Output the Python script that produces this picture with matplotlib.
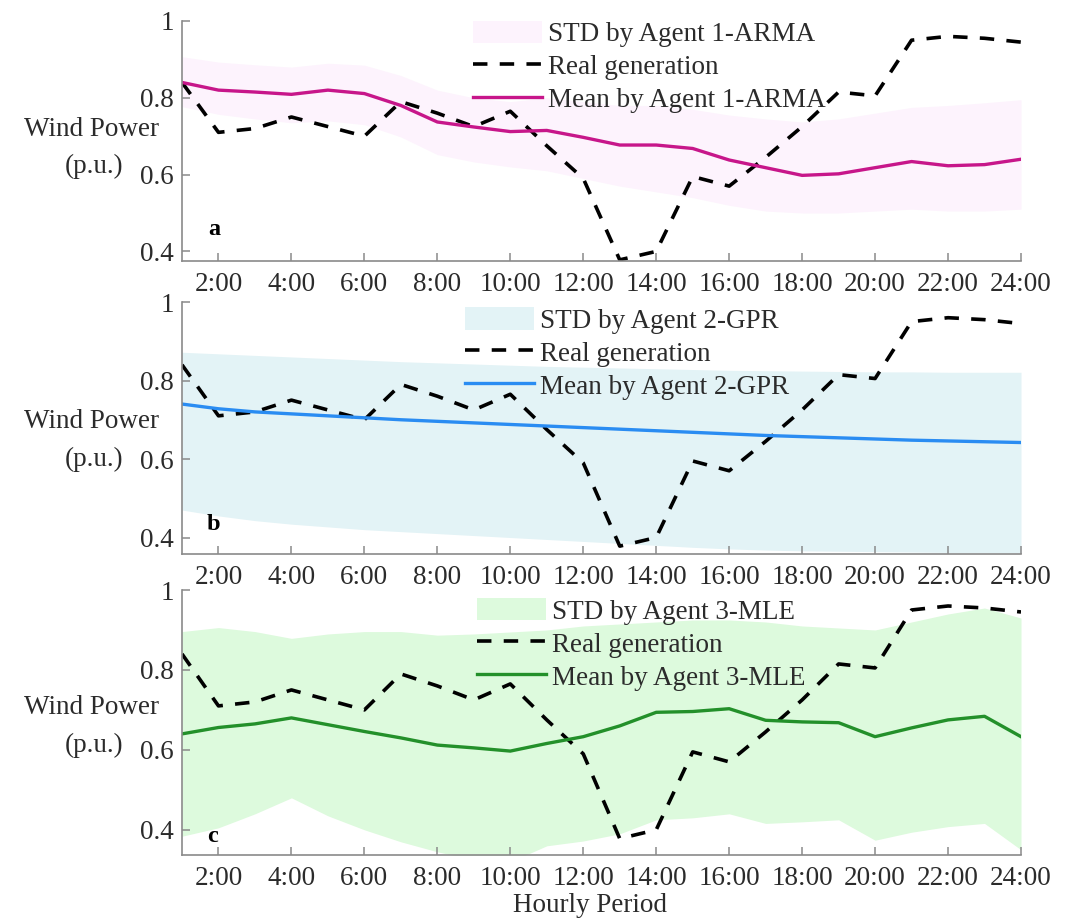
"""Wind power forecasts by three agents vs. real generation (hourly, p.u.)."""

import matplotlib.pyplot as plt
import numpy as np

plt.rcParams["font.family"] = ["Liberation Serif", "DejaVu Serif"]

hours = np.arange(1, 25)
tick_hours = np.arange(2, 25, 2)
tick_labels = [f"{h}:00" for h in tick_hours]

real = [0.84, 0.71, 0.72, 0.75, 0.725, 0.70, 0.79, 0.76, 0.725, 0.765, 0.675, 0.59,
        0.378, 0.40, 0.595, 0.57, 0.645, 0.725, 0.815, 0.805, 0.95, 0.96, 0.955, 0.945]

# Agent 1 - ARMA
arma_mean = [0.84, 0.82, 0.815, 0.809, 0.82, 0.811, 0.78, 0.737, 0.724, 0.712, 0.715, 0.697,
             0.677, 0.677, 0.668, 0.638, 0.618, 0.598, 0.602, 0.618, 0.634, 0.623, 0.626, 0.64]
arma_upper = [0.907, 0.893, 0.886, 0.88, 0.89, 0.885, 0.858, 0.82, 0.80, 0.79, 0.80, 0.79,
              0.78, 0.78, 0.77, 0.755, 0.745, 0.737, 0.745, 0.76, 0.775, 0.78, 0.787, 0.795]
arma_lower = [0.777, 0.757, 0.745, 0.735, 0.74, 0.73, 0.698, 0.652, 0.633, 0.62, 0.61, 0.59,
              0.57, 0.555, 0.54, 0.52, 0.505, 0.50, 0.50, 0.505, 0.51, 0.505, 0.505, 0.51]

# Agent 2 - GPR
gpr_mean = [0.74, 0.728, 0.72, 0.715, 0.71, 0.705, 0.70, 0.696, 0.692, 0.688, 0.684, 0.68,
            0.676, 0.672, 0.668, 0.664, 0.66, 0.657, 0.654, 0.651, 0.648, 0.646, 0.644, 0.642]
gpr_upper = [0.872, 0.868, 0.864, 0.86, 0.856, 0.852, 0.848, 0.845, 0.842, 0.839, 0.836, 0.834,
             0.832, 0.83, 0.828, 0.826, 0.825, 0.824, 0.823, 0.822, 0.822, 0.821, 0.821, 0.821]
gpr_lower = [0.47, 0.455, 0.443, 0.434, 0.427, 0.42, 0.415, 0.41, 0.405, 0.40, 0.395, 0.39,
             0.385, 0.38, 0.375, 0.371, 0.368, 0.366, 0.365, 0.364, 0.363, 0.362, 0.362, 0.361]

# Agent 3 - MLE
mle_mean = [0.64, 0.656, 0.665, 0.68, 0.663, 0.646, 0.63, 0.612, 0.605, 0.597, 0.616, 0.633,
            0.66, 0.694, 0.696, 0.703, 0.674, 0.67, 0.668, 0.633, 0.655, 0.675, 0.684, 0.633]
mle_upper = [0.896, 0.906, 0.896, 0.879, 0.89, 0.896, 0.896, 0.887, 0.89, 0.895, 0.90, 0.91,
             0.915, 0.92, 0.925, 0.925, 0.92, 0.91, 0.905, 0.90, 0.92, 0.94, 0.955, 0.93]
mle_lower = [0.384, 0.405, 0.44, 0.48, 0.435, 0.40, 0.37, 0.345, 0.325, 0.32, 0.36, 0.372,
             0.39, 0.425, 0.43, 0.44, 0.416, 0.42, 0.425, 0.374, 0.394, 0.408, 0.416, 0.35]

# rect / label positions are in picture pixels (left, top, right, bottom)
panels = [
    dict(tag="a", name="Agent 1-ARMA", mean=arma_mean, upper=arma_upper, lower=arma_lower,
         line="#C7168A", fill="#FDF3FD", ymin=0.375,
         rect=[182, 21, 1021, 261], leg=(0.347, 1.002), ylab=(129, 166), tagpos=(0.039, 0.133)),
    dict(tag="b", name="Agent 2-GPR", mean=gpr_mean, upper=gpr_upper, lower=gpr_lower,
         line="#2A8CF2", fill="#E3F3F6", ymin=0.358,
         rect=[182, 302, 1021, 554], leg=(0.337, 0.980), ylab=(421, 459), tagpos=(0.038, 0.119)),
    dict(tag="c", name="Agent 3-MLE", mean=mle_mean, upper=mle_upper, lower=mle_lower,
         line="#23902A", fill="#DDFADD", ymin=0.337,
         rect=[182, 590, 1021, 855], leg=(0.352, 0.970), ylab=(707, 745), tagpos=(0.036, 0.07)),
]

W, H = 1076, 919
FS = 19.5
TXT = "#2b2b2b"
AX = "#8a8a8a"

fig = plt.figure(figsize=(W / 100, H / 100), dpi=100)

for p in panels:
    x0, y0, x1, y1 = p["rect"]
    ax = fig.add_axes([x0 / W, 1 - y1 / H, (x1 - x0) / W, (y1 - y0) / H])

    ax.fill_between(hours, p["lower"], p["upper"], color=p["fill"], linewidth=0,
                    label=f"STD by {p['name']}")
    ax.plot(hours, real, color="black", linewidth=2.6, dashes=(4, 3.4),
            label="Real generation")
    ax.plot(hours, p["mean"], color=p["line"], linewidth=2.4,
            label=f"Mean by {p['name']}")

    ax.set_xlim(1, 24)
    ax.set_ylim(p["ymin"], 1.0)
    ax.set_xticks(tick_hours)
    ax.set_xticklabels(tick_labels)
    ax.set_yticks([0.4, 0.6, 0.8, 1.0])
    ax.set_yticklabels(["0.4", "0.6", "0.8", "1"])

    for s in ["top", "right"]:
        ax.spines[s].set_visible(False)
    for s in ["left", "bottom"]:
        ax.spines[s].set_color(AX)
        ax.spines[s].set_linewidth(1.2)
    ax.tick_params(direction="in", length=6, width=1.1, color=AX,
                   labelsize=FS, labelcolor=TXT)
    ax.tick_params(axis="y", pad=6)
    ax.tick_params(axis="x", pad=8)

    # two-line y label, drawn as two texts
    fig.text(91 / W, 1 - p["ylab"][0] / H, "Wind Power", ha="center", va="center",
             fontsize=FS, color=TXT)
    fig.text(94 / W, 1 - p["ylab"][1] / H, "(p.u.)", ha="center", va="center",
             fontsize=FS, color=TXT)

    ax.text(p["tagpos"][0], p["tagpos"][1], p["tag"], transform=ax.transAxes,
            fontsize=FS - 2, fontweight="bold", color="black", ha="center", va="center")

    ax.legend(loc="upper left", bbox_to_anchor=p["leg"], frameon=False,
              fontsize=FS, labelcolor=TXT, borderpad=0, borderaxespad=0,
              handlelength=2.55, handleheight=0.9, handletextpad=0.22,
              labelspacing=0.24)

fig.text(590 / W, 1 - 905 / H, "Hourly Period", ha="center", va="center",
         fontsize=FS, color=TXT)

fig.savefig("out.png", dpi=100, facecolor="white")
